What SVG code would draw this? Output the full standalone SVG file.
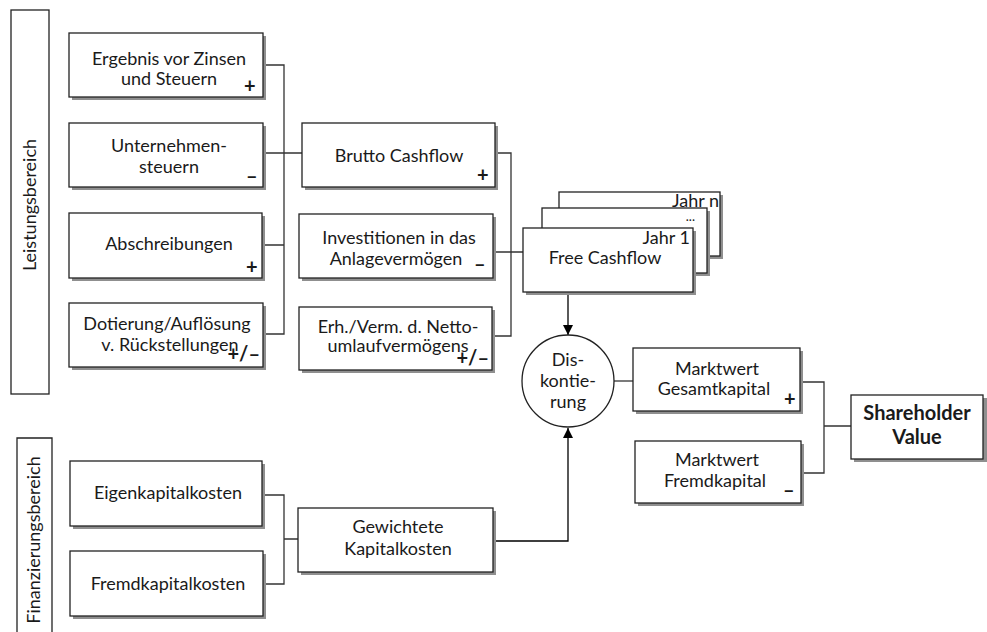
<svg xmlns="http://www.w3.org/2000/svg" width="987" height="632" viewBox="0 0 987 632">
  <style>
    text { font-family: Lato, "Open Sans", "Liberation Sans", sans-serif; font-size: 18px; fill: #1a1a1a; }
    .c { text-anchor: middle; }
    .r { text-anchor: end; }
    .sign { font-size: 20px; font-weight: bold; }
    .bold { font-weight: bold; font-size: 20px; }
    .dots { font-size: 13px; }
    .box { fill: #fff; stroke: #222; stroke-width: 1.3; }
    .shadow { fill: #8f8f8f; }
    .area { fill: #fff; stroke: #222; stroke-width: 1.3; }
    .wire { fill: none; stroke: #333; stroke-width: 1.3; }
    .arrow { fill: none; stroke: #000; stroke-width: 1.3; marker-end: url(#tip); }
  </style>
  <defs>
    <marker id="tip" viewBox="0 0 10 10" refX="10" refY="5" markerWidth="12" markerHeight="10" markerUnits="userSpaceOnUse" orient="auto">
      <path d="M0,0 L10,5 L0,10 Z" fill="#000"/>
    </marker>
  </defs>
  <rect width="987" height="632" fill="#fff"/>

  <!-- area labels -->
  <g id="leistungsbereich">
    <rect class="area" x="11" y="10" width="38" height="384"/>
    <text class="c" transform="translate(36,205) rotate(-90)">Leistungsbereich</text>
  </g>
  <g id="finanzierungsbereich">
    <path class="area" d="M17,640 V438 H52 V640"/>
    <text class="c" transform="translate(40,540) rotate(-90)">Finanzierungsbereich</text>
  </g>

  <!-- connectors -->
  <g id="connectors">
    <path class="wire" d="M263,65 H284 V334 H263 M263,153 H302 M262,245 H284"/>
    <path class="wire" d="M495,153 H511 V336 H492 M493,252 H523"/>
    <path class="arrow" d="M568,292 V335"/>
    <path class="wire" d="M614,381 H633"/>
    <path class="wire" d="M800,382 H824 V473 H801 M824,426 H851"/>
    <path class="wire" d="M262,495 H284 V584 H263 M284,539 H298"/>
    <path class="arrow" d="M493,541 H568 V428"/>
  </g>

  <g id="ergebnis">
    <rect class="shadow" x="72" y="36" width="194" height="64"/>
    <rect class="box" x="69" y="33" width="194" height="64"/>
    <text class="c" x="169" y="65">Ergebnis vor Zinsen</text>
    <text class="c" x="169" y="85">und Steuern</text>
    <text class="sign" x="244" y="93">+</text>
  </g>
  <g id="steuern">
    <rect class="shadow" x="72" y="126" width="194" height="64"/>
    <rect class="box" x="69" y="123" width="194" height="64"/>
    <text class="c" x="169" y="152">Unternehmen-</text>
    <text class="c" x="169" y="173">steuern</text>
    <text class="sign" x="246" y="183">–</text>
  </g>
  <g id="abschreibungen">
    <rect class="shadow" x="72" y="216" width="193" height="65"/>
    <rect class="box" x="69" y="213" width="193" height="65"/>
    <text class="c" x="169" y="250">Abschreibungen</text>
    <text class="sign" x="246" y="274">+</text>
  </g>
  <g id="dotierung">
    <rect class="shadow" x="72" y="306" width="194" height="64"/>
    <rect class="box" x="69" y="303" width="194" height="64"/>
    <text class="c" x="167" y="330">Dotierung/Auflösung</text>
    <text class="c" x="170" y="351">v. Rückstellungen</text>
    <text class="sign r" x="260" y="361">+/–</text>
  </g>

  <g id="brutto">
    <rect class="shadow" x="305" y="126" width="193" height="64"/>
    <rect class="box" x="302" y="123" width="193" height="64"/>
    <text class="c" x="399" y="162">Brutto Cashflow</text>
    <text class="sign" x="477" y="182">+</text>
  </g>
  <g id="investitionen">
    <rect class="shadow" x="302" y="217" width="194" height="64"/>
    <rect class="box" x="299" y="214" width="194" height="64"/>
    <text class="c" x="399" y="244">Investitionen in das</text>
    <text class="c" x="396" y="265">Anlagevermögen</text>
    <text class="sign" x="474" y="271">–</text>
  </g>
  <g id="nettoumlauf">
    <rect class="shadow" x="302" y="310" width="193" height="63"/>
    <rect class="box" x="299" y="307" width="193" height="63"/>
    <text class="c" x="398" y="333">Erh./Verm. d. Netto-</text>
    <text class="c" x="398" y="352">umlaufvermögens</text>
    <text class="sign r" x="489" y="365">+/–</text>
  </g>

  <g id="free-cashflow">
    <rect class="shadow" x="562" y="195" width="161" height="64"/>
    <rect class="box" x="559" y="192" width="161" height="64"/>
    <text class="r" x="719" y="207">Jahr n</text>
    <rect class="shadow" x="545" y="211" width="165" height="65"/>
    <rect class="box" x="542" y="208" width="165" height="65"/>
    <text class="r dots" x="695" y="221">...</text>
    <rect class="shadow" x="526" y="231" width="170" height="64"/>
    <rect class="box" x="523" y="228" width="170" height="64"/>
    <text class="r" x="690" y="244">Jahr 1</text>
    <text class="c" x="605" y="264">Free Cashflow</text>
  </g>

  <g id="diskontierung">
    <circle cx="568" cy="381" r="46" fill="#fff" stroke="#222" stroke-width="1.3"/>
    <text class="c" x="568" y="366">Dis-</text>
    <text class="c" x="568" y="387">kontie-</text>
    <text class="c" x="568" y="408">rung</text>
  </g>

  <g id="gesamtkapital">
    <rect class="shadow" x="636" y="351" width="167" height="63"/>
    <rect class="box" x="633" y="348" width="167" height="63"/>
    <text class="c" x="717" y="375">Marktwert</text>
    <text class="c" x="714" y="395">Gesamtkapital</text>
    <text class="sign" x="784" y="406">+</text>
  </g>
  <g id="fremdkapital">
    <rect class="shadow" x="638" y="444" width="166" height="62"/>
    <rect class="box" x="635" y="441" width="166" height="62"/>
    <text class="c" x="717" y="466">Marktwert</text>
    <text class="c" x="715" y="487">Fremdkapital</text>
    <text class="sign" x="783" y="497">–</text>
  </g>

  <g id="shareholder-value">
    <rect class="shadow" x="854" y="398" width="133" height="64"/>
    <rect class="box" x="851" y="395" width="132" height="64"/>
    <text class="c bold" x="917" y="420">Shareholder</text>
    <text class="c bold" x="917" y="444">Value</text>
  </g>

  <g id="eigenkapitalkosten">
    <rect class="shadow" x="73" y="464" width="192" height="65"/>
    <rect class="box" x="70" y="461" width="192" height="65"/>
    <text class="c" x="168" y="499">Eigenkapitalkosten</text>
  </g>
  <g id="fremdkapitalkosten">
    <rect class="shadow" x="73" y="554" width="193" height="65"/>
    <rect class="box" x="70" y="551" width="193" height="65"/>
    <text class="c" x="168" y="590">Fremdkapitalkosten</text>
  </g>
  <g id="gewichtete-kapitalkosten">
    <rect class="shadow" x="301" y="511" width="195" height="64"/>
    <rect class="box" x="298" y="508" width="195" height="64"/>
    <text class="c" x="398" y="533">Gewichtete</text>
    <text class="c" x="398" y="555">Kapitalkosten</text>
  </g>
</svg>
